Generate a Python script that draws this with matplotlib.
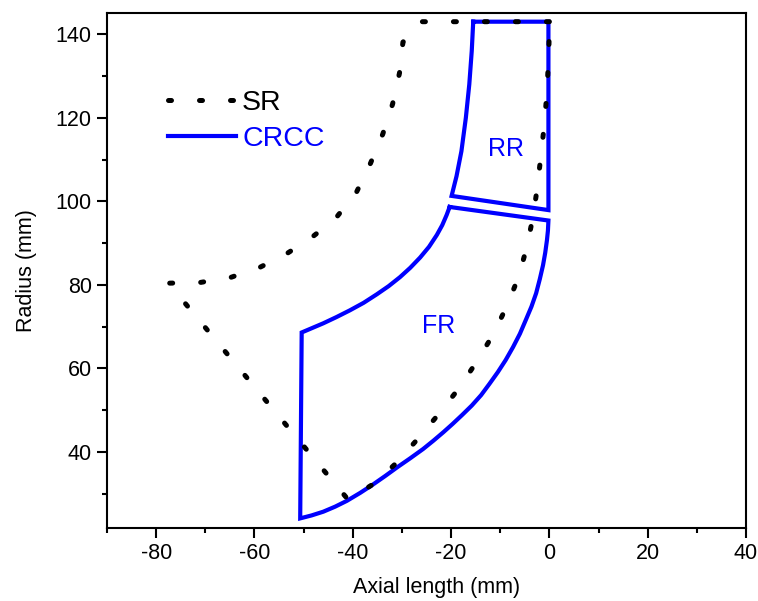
import matplotlib
matplotlib.use("Agg")
import matplotlib.pyplot as plt
from matplotlib.ticker import MultipleLocator

plt.rcParams['font.family'] = ['Liberation Sans', 'DejaVu Sans']
plt.rcParams['axes.unicode_minus'] = False

# SR profile (closed, dotted)
sr_x = [0.0, -13.0, -26.0, -29.8, -30.5, -31.9, -33.9, -36.4, -39.2, -43.5, -48.2,
        -53.4, -58.9, -64.8, -70.9, -77.5, -40.9, -35.6, -31.1, -26.8, -22.5,
        -18.5, -14.8, -11.5, -8.7, -6.3, -4.6, -3.3, -2.4, -1.7, -1.0, -0.5, -0.2,
        0.0, 0.0]
sr_y = [143.0, 143.0, 143.0, 138.1, 130.7, 123.3, 116.1, 109.1, 102.3, 95.9, 91.5,
        87.5, 84.2, 81.8, 80.6, 80.4, 28.5, 32.5, 37.4, 43.1, 49.1,
        55.1, 61.6, 68.0, 74.8, 81.8, 89.0, 96.5, 103.8, 111.3, 118.7, 126.3, 133.6,
        141.0, 143.0]

# CRCC rear region (RR)
rr_x = [-15.5, -15.8, -16.3, -17.0, -17.9, -18.9, -19.9, -0.2, -0.2, -15.5]
rr_y = [143.0, 136.0, 128.0, 120.0, 112.0, 106.0, 101.3, 97.9, 143.0, 143.0]

# CRCC front region (FR): top edge, outer arc, left edge, inner arc
fr_x = [-20.3, -0.2, -0.3, -0.5, -0.85, -1.3, -1.95, -2.7, -3.65, -4.8, -6.0,
        -7.4, -8.9, -10.5, -12.2, -13.9, -15.8, -17.8, -19.7, -21.6, -23.6,
        -25.7, -28.3, -31.0, -33.4, -35.9, -38.5, -41.2, -43.6, -46.0, -48.4,
        -50.7, -50.4, -48.2, -46.0, -43.3, -40.6, -37.8, -35.1, -32.7, -30.4,
        -28.3, -26.3, -24.5, -22.9, -21.8, -20.9, -20.3]
fr_y = [98.65, 95.4, 93.0, 90.7, 87.7, 84.7, 81.4, 78.0, 74.8, 71.6, 68.3,
        65.1, 62.0, 59.1, 56.3, 53.6, 51.1, 48.8, 46.7, 44.7, 42.7,
        40.7, 38.5, 36.3, 34.25, 32.2, 30.2, 28.3, 26.9, 25.7, 24.8,
        24.1, 68.6, 69.7, 70.8, 72.3, 73.9, 75.7, 77.75, 79.7, 81.85,
        84.1, 86.55, 89.1, 91.95, 94.3, 96.75, 98.65]

fig = plt.figure(figsize=(7.58, 6.01), dpi=100)
ax = fig.add_axes([0.1412, 0.1215, 0.843, 0.857])

blue = '#0000FF'
ax.plot(rr_x, rr_y, color=blue, lw=3.0, solid_joinstyle='miter',
        solid_capstyle='projecting', zorder=2)
crcc, = ax.plot(fr_x, fr_y, color=blue, lw=3.0, solid_joinstyle='miter',
                solid_capstyle='projecting', zorder=2, label='CRCC')
sr, = ax.plot(sr_x, sr_y, color='black', lw=3.6, linestyle=(0, (0.6, 5.6)),
              dash_capstyle='round', zorder=3, label='SR')

ax.text(-8.8, 112.6, 'RR', color=blue, fontsize=18, ha='center', va='center')
ax.text(-22.6, 70.2, 'FR', color=blue, fontsize=18, ha='center', va='center')

ax.legend(handles=[sr, crcc], loc='upper left', bbox_to_anchor=(0.0955, 0.851),
          frameon=False, fontsize=20.5, handlelength=2.4, handletextpad=0.2,
          labelspacing=0.37, borderpad=0, borderaxespad=0, labelcolor='linecolor')

ax.set_xlim(-90, 40)
ax.set_ylim(21.8, 145.1)
ax.xaxis.set_major_locator(MultipleLocator(20))
ax.xaxis.set_minor_locator(MultipleLocator(10))
ax.yaxis.set_major_locator(MultipleLocator(20))
ax.yaxis.set_minor_locator(MultipleLocator(10))
ax.set_yticks([40, 60, 80, 100, 120, 140])

ax.tick_params(which='major', direction='out', length=7, width=1.5,
               labelsize=15.5, pad=4)
ax.tick_params(which='minor', direction='out', length=3.6, width=1.5)
for s in ax.spines.values():
    s.set_linewidth(1.5)

ax.set_xlabel('Axial length (mm)', fontsize=15.5)
ax.set_ylabel('Radius (mm)', fontsize=15.5)
ax.xaxis.set_label_coords(0.516, -0.095)
ax.yaxis.set_label_coords(-0.11, 0.5)

fig.savefig('out.png', dpi=100)
